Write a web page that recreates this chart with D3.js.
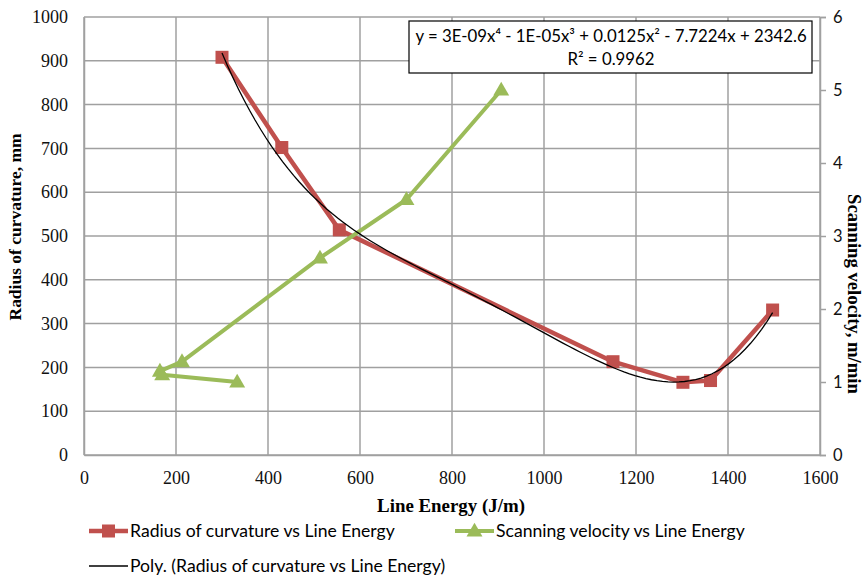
<!DOCTYPE html>
<html>
<head>
<meta charset="utf-8">
<script src="https://cdn.jsdelivr.net/npm/d3@7/dist/d3.min.js"></script>
<style>
  body { margin: 0; background: #fff; }
  svg { display: block; }
</style>
</head>
<body>
<svg id="chart" width="866" height="577"></svg>
<script>
// Section: data
var radiusX = [300, 430, 555, 1150, 1302, 1362, 1497];
var radiusY = [908, 702, 514, 213, 166, 170, 331];
var velocityX = [333, 170, 165, 213, 513, 701, 907];
var velocityY = [1.0, 1.1, 1.15, 1.28, 2.7, 3.5, 5.0];
var xTicks = [0, 200, 400, 600, 800, 1000, 1200, 1400, 1600];
var yTicks = [0, 100, 200, 300, 400, 500, 600, 700, 800, 900, 1000];
var y2Ticks = [0, 1, 2, 3, 4, 5, 6];
var equationText = 'y = 3E-09x\u2074 - 1E-05x\u00b3 + 0.0125x\u00b2 - 7.7224x + 2342.6';
var r2Text = 'R\u00b2 = 0.9962';
var legendNames = ['Radius of curvature vs Line Energy', 'Scanning velocity vs Line Energy', 'Poly. (Radius of curvature vs Line Energy)'];

var red = '#c0504d', green = '#9bbb59', grid = '#a0a0a0';
var serif = '"Liberation Serif", "DejaVu Serif", serif';
var sans = 'Lato, "Open Sans", sans-serif';

var svg = d3.select('#chart');
var plot = {l: 84, r: 820, t: 17, b: 455};

var xScale = d3.scaleLinear().domain([0, 1600]).range([plot.l, plot.r]);
var yScale = d3.scaleLinear().domain([0, 1000]).range([plot.b, plot.t]);
var y2Scale = d3.scaleLinear().domain([0, 6]).range([plot.b, plot.t]);

// grid lines
svg.append('g').selectAll('line.h').data(yTicks).enter().append('line')
    .attr('x1', plot.l).attr('x2', plot.r)
    .attr('y1', d => yScale(d)).attr('y2', d => yScale(d))
    .attr('stroke', grid).attr('stroke-width', 1.5);
svg.append('g').selectAll('line.v').data(xTicks).enter().append('line')
    .attr('x1', d => xScale(d)).attr('x2', d => xScale(d))
    .attr('y1', plot.t).attr('y2', plot.b)
    .attr('stroke', grid).attr('stroke-width', 1.5);

// axes
var fmt = d3.format('d');
var xAxis = svg.append('g').attr('transform', 'translate(0,' + plot.b + ')')
    .call(d3.axisBottom(xScale).tickValues(xTicks).tickFormat(fmt).tickSize(0).tickPadding(16));
var yAxis = svg.append('g').attr('transform', 'translate(' + plot.l + ',0)')
    .call(d3.axisLeft(yScale).tickValues(yTicks).tickFormat(fmt).tickSize(0).tickPadding(16));
var y2Axis = svg.append('g').attr('transform', 'translate(' + plot.r + ',0)')
    .call(d3.axisRight(y2Scale).tickValues(y2Ticks).tickFormat(fmt).tickSize(6).tickPadding(7));

[xAxis, yAxis].forEach(a => {
    a.attr('font-family', null).attr('font-size', null);
    a.selectAll('text').style('font-family', serif).style('font-size', '18px').attr('fill', '#111');
});
y2Axis.attr('font-family', null).attr('font-size', null);
y2Axis.selectAll('text').style('font-family', sans).style('font-size', '16.5px').attr('fill', '#111');
[xAxis, yAxis, y2Axis].forEach(a => {
    a.select('.domain').attr('stroke', grid).attr('stroke-width', 1.5);
    a.selectAll('.tick line').attr('stroke', grid).attr('stroke-width', 1.5);
});

// axis titles, sized to the span they take in the picture
var titles = svg.append('g').style('font-family', serif).style('font-weight', 'bold');
function fitText(sel, span) {
    sel.style('font-size', '16px');
    var w = sel.node().getComputedTextLength();
    sel.style('font-size', (16 * span / w) + 'px');
}
fitText(titles.append('text').attr('x', 451).attr('y', 512).attr('text-anchor', 'middle')
    .text('Line Energy (J/m)'), 148);
fitText(titles.append('text').attr('transform', 'translate(21,227)rotate(-90)').attr('text-anchor', 'middle')
    .text('Radius of curvature, mm'), 187);
fitText(titles.append('text').attr('transform', 'translate(848,294)rotate(90)').attr('text-anchor', 'middle')
    .text('Scanning velocity, m/min'), 200);

// Section: polynomial trend line (least squares, degree 4, on the radius data)
function polyFit(xs, ys, deg) {
    var n = deg + 1;
    var A = [], b = [];
    for (var i = 0; i < n; i++) {
        A.push(new Array(n).fill(0));
        b.push(0);
    }
    xs.forEach((x, k) => {
        var t = (x - 900) / 600;
        for (var i = 0; i < n; i++) {
            b[i] += ys[k] * Math.pow(t, i);
            for (var j = 0; j < n; j++) A[i][j] += Math.pow(t, i + j);
        }
    });
    // gaussian elimination
    for (var c = 0; c < n; c++) {
        var p = c;
        for (var r = c + 1; r < n; r++) if (Math.abs(A[r][c]) > Math.abs(A[p][c])) p = r;
        [A[c], A[p]] = [A[p], A[c]];
        [b[c], b[p]] = [b[p], b[c]];
        for (var r = c + 1; r < n; r++) {
            var f = A[r][c] / A[c][c];
            for (var j = c; j < n; j++) A[r][j] -= f * A[c][j];
            b[r] -= f * b[c];
        }
    }
    var coef = new Array(n).fill(0);
    for (var i = n - 1; i >= 0; i--) {
        var s = b[i];
        for (var j = i + 1; j < n; j++) s -= A[i][j] * coef[j];
        coef[i] = s / A[i][i];
    }
    return x => coef.reduce((acc, c, i) => acc + c * Math.pow((x - 900) / 600, i), 0);
}
var trend = polyFit(radiusX, radiusY, 4);
var xMin = d3.min(radiusX), xMax = d3.max(radiusX);
var trendPts = d3.range(0, 101).map(i => {
    var x = xMin + (xMax - xMin) * i / 100;
    return [x, trend(x)];
});

// Section: series
var radiusData = radiusX.map((x, i) => ({x: x, y: radiusY[i]}));
var velocityData = velocityX.map((x, i) => ({x: x, y: velocityY[i]}));

svg.append('path').datum(radiusData)
    .attr('fill', 'none').attr('stroke', red).attr('stroke-width', 4.5).attr('stroke-linejoin', 'round')
    .attr('d', d3.line().x(d => xScale(d.x)).y(d => yScale(d.y)));
svg.append('path').datum(velocityData)
    .attr('fill', 'none').attr('stroke', green).attr('stroke-width', 4).attr('stroke-linejoin', 'round')
    .attr('d', d3.line().x(d => xScale(d.x)).y(d => y2Scale(d.y)));

svg.selectAll('rect.sq').data(radiusData).enter().append('rect')
    .attr('x', d => xScale(d.x) - 6.5).attr('y', d => yScale(d.y) - 6.5)
    .attr('width', 13).attr('height', 13).attr('fill', red);

var tri = d3.symbol().type(d3.symbolTriangle).size(110);
svg.selectAll('path.tri').data(velocityData).enter().append('path')
    .attr('transform', d => 'translate(' + xScale(d.x) + ',' + (y2Scale(d.y) + 1) + ')')
    .attr('d', tri).attr('fill', green);

svg.append('path').datum(trendPts)
    .attr('fill', 'none').attr('stroke', '#000').attr('stroke-width', 1.3)
    .attr('d', d3.line().x(d => xScale(d[0])).y(d => yScale(d[1])));

// Section: equation box
svg.append('rect').attr('x', 409).attr('y', 21).attr('width', 403).attr('height', 52)
    .attr('fill', '#fff').attr('stroke', '#000').attr('stroke-width', 1.2);
var eq = svg.append('g').style('font-family', sans).style('font-size', '16.8px');
eq.append('text').attr('x', 611).attr('y', 42).attr('text-anchor', 'middle').text(equationText);
eq.append('text').attr('x', 611).attr('y', 65).attr('text-anchor', 'middle').text(r2Text);

// Section: legend
var legend = svg.append('g').style('font-family', sans).style('font-size', '17.6px');
function legendItem(x, y, color, width, marker, label) {
    legend.append('line').attr('x1', x).attr('x2', x + 39).attr('y1', y).attr('y2', y)
        .attr('stroke', color).attr('stroke-width', width);
    if (marker === 'square') {
        legend.append('rect').attr('x', x + 13).attr('y', y - 6.5).attr('width', 13).attr('height', 13).attr('fill', color);
    } else if (marker === 'triangle') {
        legend.append('path').attr('transform', 'translate(' + (x + 19.5) + ',' + (y + 1) + ')')
            .attr('d', tri).attr('fill', color);
    }
    legend.append('text').attr('x', x + 41).attr('y', y + 6).text(label);
}
legendItem(89, 531, red, 4.5, 'square', legendNames[0]);
legendItem(455, 531, green, 4, 'triangle', legendNames[1]);
legendItem(89, 566, '#000', 1.3, null, legendNames[2]);
</script>
</body>
</html>
